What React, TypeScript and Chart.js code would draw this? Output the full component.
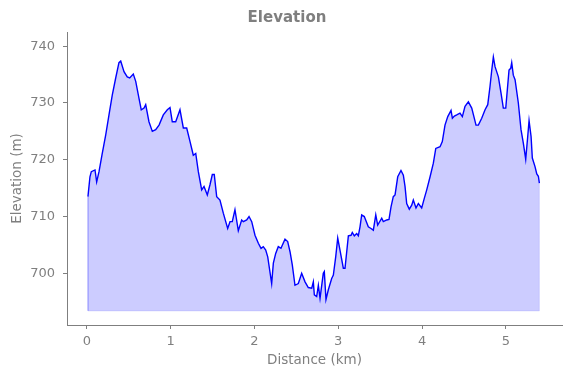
import React, { useEffect, useRef } from "react";
import { Chart, registerables } from "chart.js";

Chart.register(...registerables);

const distanceKm = [
  0.014, 0.038, 0.054, 0.098, 0.118, 0.146, 0.181, 0.226, 0.265, 0.304, 0.345, 0.384, 0.405, 0.444, 0.483, 0.512, 0.555, 0.584, 0.623, 0.65,
  0.683, 0.703, 0.742, 0.782, 0.822, 0.862, 0.913, 0.961, 0.993, 1.02, 1.061, 1.112, 1.152, 1.192, 1.232, 1.271, 1.3, 1.331, 1.371, 1.399,
  1.438, 1.47, 1.498, 1.521, 1.55, 1.589, 1.629, 1.681, 1.709, 1.736, 1.768, 1.808, 1.848, 1.868, 1.908, 1.936, 1.968, 2.007, 2.047, 2.079,
  2.106, 2.135, 2.159, 2.206, 2.226, 2.254, 2.285, 2.317, 2.365, 2.397, 2.425, 2.452, 2.484, 2.524, 2.564, 2.604, 2.643, 2.684, 2.703, 2.715,
  2.743, 2.763, 2.783, 2.822, 2.834, 2.854, 2.882, 2.922, 2.942, 2.97, 2.994, 3.021, 3.061, 3.081, 3.121, 3.153, 3.168, 3.192, 3.221, 3.24,
  3.26, 3.28, 3.311, 3.359, 3.391, 3.419, 3.448, 3.471, 3.519, 3.538, 3.579, 3.606, 3.63, 3.657, 3.678, 3.71, 3.749, 3.777, 3.797, 3.817,
  3.848, 3.877, 3.896, 3.928, 3.956, 3.996, 4.027, 4.056, 4.096, 4.135, 4.164, 4.215, 4.242, 4.274, 4.307, 4.346, 4.362, 4.386, 4.414, 4.453,
  4.481, 4.513, 4.553, 4.593, 4.624, 4.644, 4.672, 4.712, 4.752, 4.784, 4.811, 4.832, 4.851, 4.871, 4.911, 4.943, 4.97, 4.999, 5.038, 5.058,
  5.07, 5.089, 5.11, 5.149, 5.181, 5.209, 5.237, 5.261, 5.277, 5.301, 5.316, 5.348, 5.369, 5.388, 5.4,
];

const elevationM = [
  713.5, 717.0, 717.9, 718.2, 716.1, 717.9, 720.8, 724.4, 727.9, 731.4, 734.4, 737.1, 737.4, 735.5, 734.6, 734.4, 735.1, 733.8, 730.8, 728.8,
  729.1, 729.7, 726.7, 725.0, 725.3, 726.1, 727.9, 728.8, 729.2, 726.7, 726.7, 728.8, 725.6, 725.6, 723.2, 720.8, 721.1, 717.9, 714.7, 715.3,
  713.8, 715.6, 717.4, 717.4, 713.5, 712.9, 710.6, 707.9, 709.1, 709.1, 711.2, 707.5, 709.4, 709.1, 709.4, 710.0, 709.1, 706.7, 705.3, 704.4,
  704.7, 704.1, 702.9, 698.2, 701.8, 703.5, 704.7, 704.4, 706.0, 705.6, 703.8, 701.5, 697.9, 698.2, 700.0, 698.5, 697.5, 697.4, 698.5, 696.2,
  695.9, 697.9, 695.6, 700.0, 700.3, 695.4, 697.1, 699.1, 699.7, 702.9, 706.2, 704.1, 700.9, 700.9, 706.6, 706.7, 707.2, 706.6, 707.0, 706.6,
  708.2, 710.3, 710.0, 708.2, 707.9, 707.6, 710.3, 708.5, 709.7, 709.1, 709.4, 709.5, 711.7, 713.5, 713.8, 717.0, 718.1, 717.3, 715.3, 712.3,
  711.3, 712.0, 712.9, 711.5, 712.3, 711.5, 713.2, 714.7, 717.0, 719.4, 722.0, 722.3, 723.2, 726.1, 727.6, 728.7, 727.3, 727.7, 727.9, 728.2,
  727.6, 729.4, 730.2, 729.1, 727.3, 726.1, 726.1, 727.3, 728.8, 729.7, 732.9, 735.8, 738.1, 736.4, 734.6, 731.7, 729.1, 729.1, 735.8, 736.1,
  737.1, 734.9, 734.1, 730.0, 725.3, 722.9, 720.1, 724.1, 726.9, 724.1, 720.3, 718.8, 717.5, 717.1, 715.9,
];

const fillBase = 693.4;
const xTickValues = [0, 1, 2, 3, 4, 5];
const yTickValues = [700, 710, 720, 730, 740];
const xRange = [-0.236, 5.67];
const yRange = [690.9, 742.5];
const titleText = "Elevation";

const GRAY = "#7f7f7f";
const FONT = "'DejaVu Sans', sans-serif";

const titlePlugin = {
  id: "customTitle",
  afterDraw(chart: any) {
    const ctx = chart.ctx;
    ctx.save();
    ctx.fillStyle = GRAY;
    ctx.font = `bold 15px ${FONT}`;
    ctx.textAlign = "center";
    ctx.textBaseline = "middle";
    ctx.fillText(titleText, 287, 18.5);
    ctx.restore();
  },
};

export default function App() {
  const ref = useRef<HTMLCanvasElement | null>(null);

  useEffect(() => {
    if (!ref.current) return;
    const pts = distanceKm.map((x, i) => ({ x, y: elevationM[i] }));
    const first = distanceKm[0];
    const last = distanceKm[distanceKm.length - 1];
    const outline = [
      { x: first, y: elevationM[0] },
      { x: first, y: fillBase },
      { x: last, y: fillBase },
      { x: last, y: elevationM[elevationM.length - 1] },
    ];
    const chart = new Chart(ref.current, {
      type: "line",
      data: {
        datasets: [
          {
            data: pts,
            borderColor: "#0000ff",
            borderWidth: 1.4,
            backgroundColor: "rgba(0,0,255,0.2)",
            fill: { value: fillBase },
            pointRadius: 0,
            tension: 0,
            order: 1,
          },
          {
            data: outline,
            borderColor: "rgba(0,0,255,0.15)",
            borderWidth: 1,
            fill: false,
            pointRadius: 0,
            tension: 0,
            order: 2,
          },
        ],
      },
      plugins: [titlePlugin],
      options: {
        responsive: false,
        animation: false,
        layout: { padding: { left: 0, right: 9, top: 32, bottom: 0 } },
        plugins: {
          legend: { display: false },
          tooltip: { enabled: false },
          title: { display: false },
        },
        scales: {
          x: {
            type: "linear",
            min: xRange[0],
            max: xRange[1],
            afterBuildTicks: (s: any) => {
              s.ticks = xTickValues.map((v) => ({ value: v }));
            },
            afterFit: (s: any) => {
              s.height = 53;
            },
            grid: { drawOnChartArea: false, drawTicks: true, tickLength: 4, tickColor: GRAY, tickWidth: 1 },
            border: { display: true, color: GRAY, width: 1 },
            ticks: {
              color: GRAY,
              font: { family: FONT, size: 13 },
              padding: 5,
              maxRotation: 0,
              callback: (v: any) => String(v),
            },
            title: {
              display: true,
              text: "Distance (km)",
              color: GRAY,
              font: { family: FONT, size: 13.5 },
              padding: { top: 0, bottom: 9 },
            },
          },
          y: {
            type: "linear",
            min: yRange[0],
            max: yRange[1],
            afterBuildTicks: (s: any) => {
              s.ticks = yTickValues.map((v) => ({ value: v }));
            },
            afterFit: (s: any) => {
              s.width = 67;
            },
            grid: { drawOnChartArea: false, drawTicks: true, tickLength: 4, tickColor: GRAY, tickWidth: 1 },
            border: { display: true, color: GRAY, width: 1 },
            ticks: {
              color: GRAY,
              font: { family: FONT, size: 13 },
              padding: 8,
              callback: (v: any) => String(v),
            },
            title: {
              display: true,
              text: "Elevation (m)",
              color: GRAY,
              font: { family: FONT, size: 13.5 },
              padding: { top: 9, bottom: 0 },
            },
          },
        },
      },
    });
    return () => chart.destroy();
  }, []);

  return (
    <div style={{ position: "fixed", left: 0, top: 0, width: 571, height: 378, background: "#fff" }}>
      <canvas ref={ref} width={571} height={378} style={{ display: "block", width: 571, height: 378 }} />
    </div>
  );
}
